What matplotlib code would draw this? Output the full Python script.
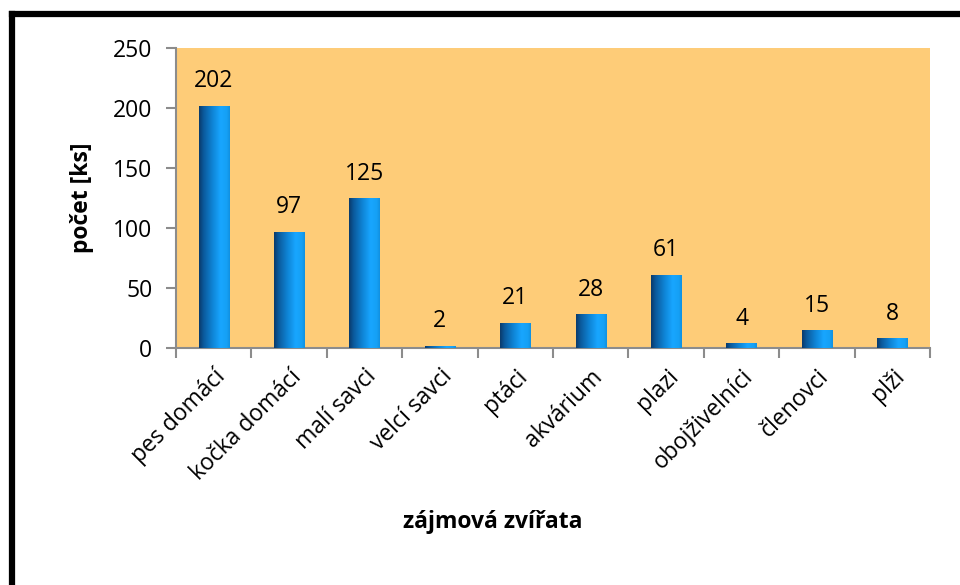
import numpy as np
import matplotlib
matplotlib.use("Agg")
import matplotlib.pyplot as plt
from matplotlib.colors import LinearSegmentedColormap
from matplotlib.lines import Line2D

categories = ["pes domácí", "kočka domácí", "malí savci", "velcí savci", "ptáci",
              "akvárium", "plazi", "obojživelníci", "členovci", "plži"]
values = [202, 97, 125, 2, 21, 28, 61, 4, 15, 8]
y_ticks = [0, 50, 100, 150, 200, 250]

plt.rcParams['font.family'] = ['Open Sans', 'DejaVu Sans']
FS = 16.5

fig = plt.figure(figsize=(9.6, 5.85), dpi=100)
ax = fig.add_axes([176/960, 1-348/585, (930-176)/960, (348-48)/585])
ax.set_facecolor('#FECC78')

x = np.arange(len(categories))
bars = ax.bar(x, values, width=0.4, color='#1a9cf0', zorder=2)

cmap = LinearSegmentedColormap.from_list('cyl', [
    (0.0, '#0a3a6a'), (0.15, '#0b5a9c'), (0.45, '#0f86d8'),
    (0.7, '#18a6ff'), (0.9, '#15a0f5'), (1.0, '#1190e0')])
grad = np.linspace(0, 1, 256).reshape(1, -1)
for b in bars:
    x0, y0 = b.get_x(), b.get_y()
    w, h = b.get_width(), b.get_height()
    im = ax.imshow(grad, cmap=cmap, aspect='auto', extent=(x0, x0 + w, y0, y0 + h),
                   zorder=3, interpolation='bilinear')
    im.set_clip_path(b)

for xi, v in zip(x, values):
    ax.annotate(str(v), (xi, v), xytext=(0, 9), textcoords='offset points',
                ha='center', va='bottom', fontsize=FS, color='black')

ax.set_xlim(-0.5, len(categories) - 0.5)
ax.set_ylim(0, 250)
ax.set_yticks(y_ticks)
ax.set_yticklabels([str(t) for t in y_ticks], fontsize=FS)

ax.set_xticks(x)
ax.set_xticklabels(categories, rotation=45, ha='right', va='top',
                   rotation_mode='anchor', fontsize=FS)
ax.tick_params(axis='x', length=0, pad=12)
ax.set_xticks(np.arange(-0.5, len(categories)), minor=True)
ax.tick_params(axis='x', which='minor', length=7, width=1.5, color='#8c8c8c')
ax.tick_params(axis='y', length=7, width=1.5, color='#8c8c8c', pad=10)

for s in ['top', 'right']:
    ax.spines[s].set_visible(False)
for s in ['left', 'bottom']:
    ax.spines[s].set_color('#8c8c8c')
    ax.spines[s].set_linewidth(1.5)

ax.set_ylabel('počet [ks]', fontsize=FS, fontweight='bold', labelpad=14)
fig.text(493/960, 1-522/585, 'zájmová zvířata', fontsize=FS, fontweight='bold',
         ha='center', va='center')

# outer frame (top and left visible)
fig.add_artist(Line2D([11.5/960, 11.5/960], [0, 1-14/585], transform=fig.transFigure,
                      color='black', linewidth=4.5, solid_capstyle='projecting'))
fig.add_artist(Line2D([11.5/960, 1], [1-14/585, 1-14/585], transform=fig.transFigure,
                      color='black', linewidth=4.5, solid_capstyle='projecting'))

fig.savefig('out.png', dpi=100)
